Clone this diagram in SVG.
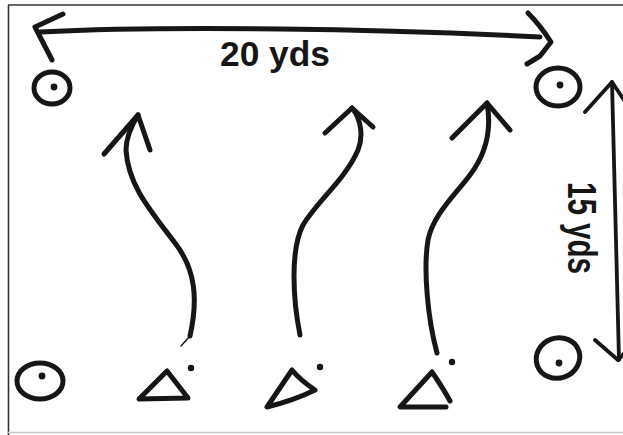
<svg xmlns="http://www.w3.org/2000/svg" width="623" height="435" viewBox="0 0 623 435">
<style>
.ink{fill:none;stroke:#161616;stroke-width:5;stroke-linecap:round;stroke-linejoin:round}
.thin{fill:none;stroke:#161616;stroke-width:3.8;stroke-linecap:round;stroke-linejoin:round}
.dot{fill:#161616}
.lbl{font-family:"Liberation Sans",Arial,sans-serif;font-weight:bold;fill:#161616}
</style>
<rect width="623" height="435" fill="#ffffff"/>
<g id="frame">
<path d="M8.5,5 L8.5,435" stroke="#333" stroke-width="1.6" fill="none"/>
<path d="M8,5 L623,5" stroke="#333" stroke-width="1.6" fill="none"/>
<path d="M8,432.5 L623,432.5" stroke="#c8c8c8" stroke-width="1.5" fill="none"/>
</g>
<g id="connectors">
<g id="width-measure">
<path class="ink" d="M40,32 C120,28 200,28 280,29 C380,30 460,33 540,37"/>
<path class="ink" d="M63,14 L35,27 L52,60"/>
<path class="ink" d="M528,13 Q540,25 551,42 L540,56 L527,64"/>
</g>
<g id="depth-measure">
<path class="thin" d="M612,82 L619,360"/>
<path class="thin" d="M585,112 L612,82 L632,112"/>
<path class="thin" d="M595,340 L618,360 L632,345"/>
</g>
<g id="run1">
<path class="ink" d="M190,336 C198,300 196,270 175,243 C150,210 128,185 126,150 C126,140 130,128 138,115"/>
<path class="ink" d="M104,154 L138,115 L150,150"/>
<path class="thin" style="stroke-width:1.5" d="M190,336 L181,346"/>
</g>
<g id="run2">
<path class="ink" d="M300,335 C293,300 290,250 303,225 C318,200 345,180 358,150 C363,138 362,120 352,108"/>
<path class="ink" d="M325,133 L352,108 L373,127"/>
</g>
<g id="run3">
<path class="ink" d="M437,353 C428,320 423,270 428,240 C433,215 455,195 470,175 C485,155 492,130 487,103"/>
<path class="ink" d="M452,138 L487,103 L510,130"/>
</g>
</g>
<g id="label-20yds">
<text class="lbl" x="220" y="66" font-size="35" textLength="110" lengthAdjust="spacingAndGlyphs">20 yds</text>
</g>
<g id="label-15yds">
<text class="lbl" transform="translate(568,182) rotate(90)" x="0" y="0" font-size="40" textLength="92" lengthAdjust="spacingAndGlyphs">15 yds</text>
</g>
<g id="cone-tl">
<ellipse class="ink" cx="52" cy="88" rx="18" ry="16"/>
<circle class="dot" cx="54" cy="87" r="3.4"/>
</g>
<g id="cone-tr">
<ellipse class="ink" cx="558" cy="87" rx="22" ry="19"/>
<circle class="dot" cx="560" cy="85" r="3.4"/>
</g>
<g id="cone-bl">
<ellipse class="ink" cx="40" cy="381" rx="23" ry="18"/>
<circle class="dot" cx="42" cy="376" r="3.4"/>
</g>
<g id="cone-br">
<ellipse class="ink" cx="558" cy="358" rx="22" ry="20" transform="rotate(-20 558 358)"/>
<circle class="dot" cx="559" cy="363" r="3.4"/>
</g>
<g id="player1">
<path class="ink" d="M167,371 L139,399 L188,398 Z"/>
<circle class="dot" cx="191" cy="368" r="3.2"/>
</g>
<g id="player2">
<path class="ink" d="M292,370 L267,407 Q295,400 315,390 Q300,380 292,370 Z"/>
<circle class="dot" cx="320" cy="367" r="3.2"/>
</g>
<g id="player3">
<path class="ink" d="M432,372 L400,407 L446,407 M432,372 Q443,388 450,401"/>
<circle class="dot" cx="452" cy="362" r="3.2"/>
</g>
</svg>
